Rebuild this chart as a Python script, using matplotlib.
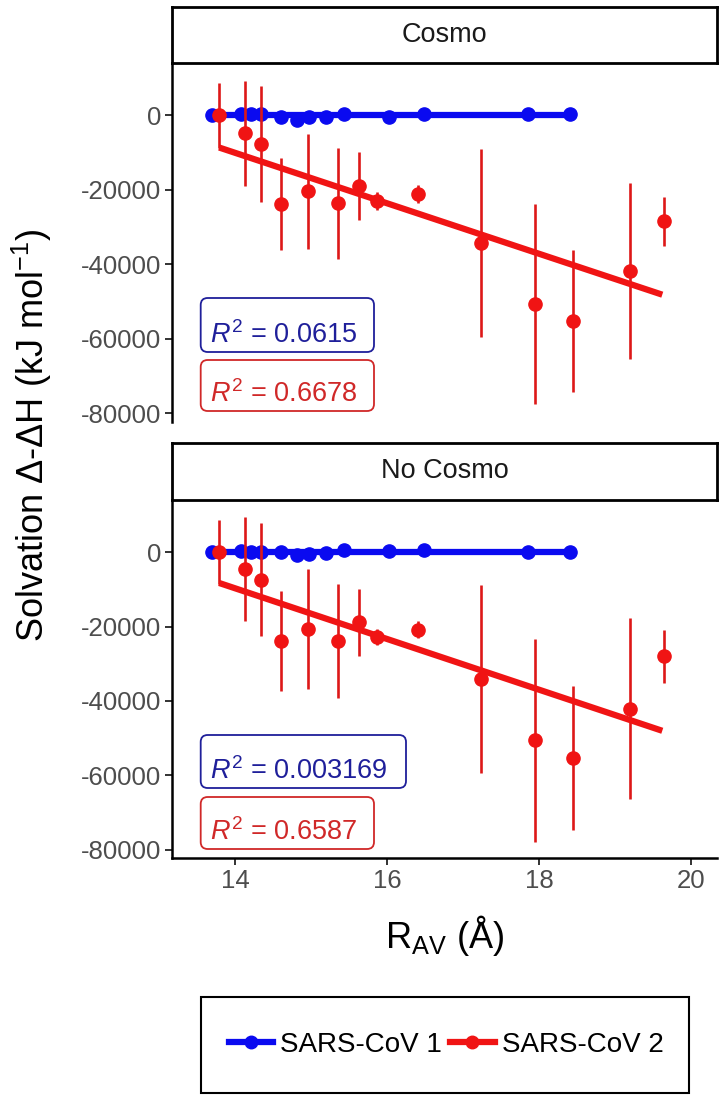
import matplotlib
matplotlib.use('Agg')
import matplotlib.pyplot as plt
from matplotlib.patches import FancyBboxPatch, Rectangle
from matplotlib.lines import Line2D

plt.rcParams['font.family'] = ['Liberation Sans', 'DejaVu Sans']
plt.rcParams['mathtext.fontset'] = 'custom'
plt.rcParams['mathtext.rm'] = 'Liberation Sans'
plt.rcParams['mathtext.it'] = 'Liberation Sans:italic'
plt.rcParams['axes.unicode_minus'] = False

# ---------------- data ----------------
panels = ['Cosmo', 'No Cosmo']
series = ['SARS-CoV 1', 'SARS-CoV 2']

r_cov1 = [13.69, 14.08, 14.21, 14.34, 14.60, 14.81, 14.97, 15.19, 15.43, 16.02, 16.49, 17.85, 18.40]
cosmo_cov1 = [0, 400, 200, 200, -600, -1200, -600, -400, 200, -400, 200, 200, 400]
nocosmo_cov1 = [0, 400, 0, 0, -100, -900, -400, -300, 600, 200, 600, 0, 0]

r_cov2 = [13.79, 14.13, 14.34, 14.60, 14.96, 15.35, 15.63, 15.87, 16.41, 17.23, 17.94, 18.44, 19.20, 19.64]
cosmo_cov2 = [0, -4900, -7700, -23850, -20450, -23600, -19000, -23000, -21200, -34350, -50750, -55250, -41900, -28550]
cosmo_cov2_err = [8700, 14100, 15600, 12400, 15500, 14900, 9200, 2400, 2500, 25150, 26850, 19050, 23600, 6650]
nocosmo_cov2 = [0, -4600, -7400, -23900, -20700, -24000, -18900, -22900, -20900, -34100, -50600, -55400, -42050, -28050]
nocosmo_cov2_err = [8600, 14000, 15200, 13400, 16200, 15300, 9000, 2100, 2300, 25300, 27300, 19400, 24350, 7050]

# regression line end points
fit_x_cov1 = [13.69, 18.40]
fit_cosmo_cov1 = [0, 0]
fit_nocosmo_cov1 = [0, 0]
fit_x_cov2 = [13.79, 19.62]
fit_cosmo_cov2 = [-8690, -48200]
fit_nocosmo_cov2 = [-8300, -48030]

r2_cosmo = ['0.0615', '0.6678']
r2_nocosmo = ['0.003169', '0.6587']

y_ticks = [0, -20000, -40000, -60000, -80000]
x_ticks = [14, 16, 18, 20]

# ---------------- styling ----------------
W, H = 724, 1100
BLUE = '#0A0AF0'
RED = '#F01414'
RED_BAR = '#DD1818'
BLUE_TXT = '#1F1F9A'
RED_TXT = '#D02828'

fig = plt.figure(figsize=(W / 100, H / 100), dpi=100)


def fr(x0, y0, x1, y1):
    return [x0 / W, 1 - y1 / H, (x1 - x0) / W, (y1 - y0) / H]


def inch(x, y):
    return x / 100, (H - y) / 100


def rbox(x0, y0, x1, y1, color):
    xa, ya = inch(x0, y1)
    p = FancyBboxPatch((xa, ya), (x1 - x0) / 100, (y1 - y0) / 100,
                       boxstyle='round,pad=0,rounding_size=0.07',
                       transform=fig.dpi_scale_trans, facecolor='white',
                       edgecolor=color, linewidth=1.3, zorder=5)
    fig.add_artist(p)


panel_rects = [(172, 63, 717, 421.7), (172, 500, 717, 858.3)]
strip_rects = [(172, 7, 717, 63), (172, 443, 717, 500)]
ydata = [(cosmo_cov1, cosmo_cov2, cosmo_cov2_err, fit_cosmo_cov1, fit_cosmo_cov2, r2_cosmo),
         (nocosmo_cov1, nocosmo_cov2, nocosmo_cov2_err, fit_nocosmo_cov1, fit_nocosmo_cov2, r2_nocosmo)]
box_rects = [[(200.7, 298, 374, 352), (200.7, 360, 374, 411)],
             [(200.7, 735, 406, 788), (200.7, 797, 374, 849)]]

for i in range(2):
    y1, y2, e2, f1, f2, r2 = ydata[i]
    ax = fig.add_axes(fr(*panel_rects[i]))
    # SARS-CoV 1
    ax.plot(fit_x_cov1, f1, color=BLUE, lw=4.5, solid_capstyle='butt', zorder=3)
    ax.plot(r_cov1, y1, 'o', color=BLUE, ms=9.5, zorder=3)
    # SARS-CoV 2
    ax.errorbar(r_cov2, y2, yerr=e2, fmt='none', ecolor=RED_BAR, elinewidth=1.9, capsize=0, zorder=4)
    ax.plot(r_cov2, y2, 'o', color=RED, ms=9.5, zorder=4)
    ax.plot(fit_x_cov2, f2, color=RED, lw=4.5, solid_capstyle='butt', zorder=4)

    ax.set_xlim(13.17, 20.34)
    ax.set_ylim(-82300, 14000)
    ax.set_yticks(y_ticks)
    ax.set_yticklabels([str(v) for v in y_ticks])
    for s in ['top', 'right']:
        ax.spines[s].set_visible(False)
    ax.spines['left'].set_linewidth(1.8)
    ax.tick_params(axis='both', length=5, width=1.4, color='#333333',
                   labelsize=18.5, labelcolor='#4D4D4D', pad=3)
    if i == 0:
        ax.spines['bottom'].set_visible(False)
        ax.set_xticks([])
    else:
        ax.spines['bottom'].set_linewidth(1.8)
        ax.set_xticks(x_ticks)
        ax.set_xticklabels([str(v) for v in x_ticks])

    # strip
    sx = fig.add_axes(fr(*strip_rects[i]))
    sx.set_xticks([])
    sx.set_yticks([])
    for s in sx.spines.values():
        s.set_linewidth(2.0)
        s.set_color('black')
    sx.text(0.5, 0.5, panels[i], ha='center', va='center', fontsize=19.5, color='#1A1A1A',
            transform=sx.transAxes)

    # R^2 boxes
    for j, (col, tcol) in enumerate([(BLUE_TXT, BLUE_TXT), (RED_TXT, RED_TXT)]):
        bx = box_rects[i][j]
        rbox(*bx, col)
        tx, ty = bx[0] + 9.5, bx[3] - 9
        fig.text(tx / W, 1 - ty / H, r'$\mathit{R}^2$ = ' + r2[j], ha='left', va='baseline',
                 fontsize=19.5, color=tcol, zorder=6)

# axis titles
fig.text(32 / W, 1 - 435 / H, 'Solvation Δ-ΔH (kJ mol$^{-1}$)', rotation=90,
         ha='center', va='center', fontsize=26, color='black')
fig.text(445 / W, 1 - 935 / H, r'R$_{\mathrm{AV}}$ (Å)', ha='center', va='center',
         fontsize=26, color='black')

# legend
xa, ya = inch(201, 1093)
fig.add_artist(Rectangle((xa, ya), 488 / 100, 96 / 100, transform=fig.dpi_scale_trans,
                         facecolor='white', edgecolor='black', linewidth=1.5))
handles = [Line2D([], [], color=BLUE, lw=4.5, marker='o', ms=9),
           Line2D([], [], color=RED, lw=4.5, marker='o', ms=9)]
fig.legend(handles, series, loc='center', bbox_to_anchor=(446 / W, 1 - 1045 / H),
           ncol=2, frameon=False, fontsize=20, handlelength=1.6, handletextpad=0.25,
           columnspacing=0.3, borderpad=0)

fig.savefig('out.png', dpi=100)
